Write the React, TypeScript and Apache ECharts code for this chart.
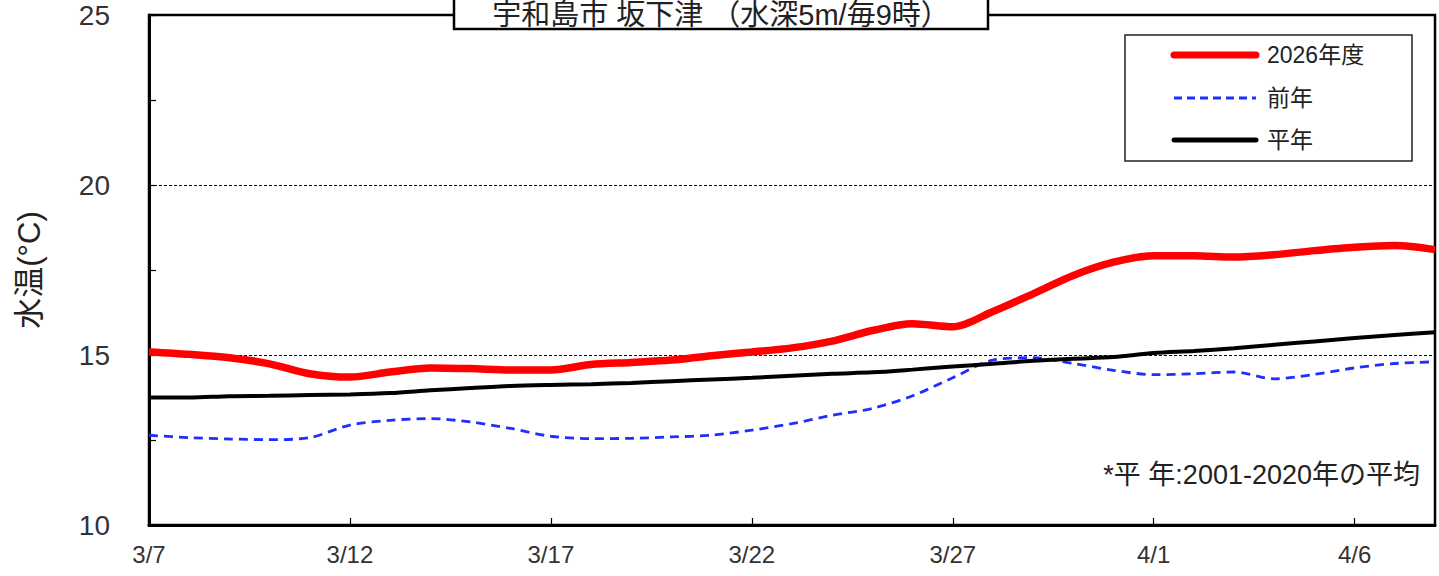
import React, { useEffect, useRef } from "react";
import * as echarts from "echarts";

const dates = [
  "3/7", "3/8", "3/9", "3/10", "3/11", "3/12", "3/13", "3/14", "3/15", "3/16",
  "3/17", "3/18", "3/19", "3/20", "3/21", "3/22", "3/23", "3/24", "3/25", "3/26",
  "3/27", "3/28", "3/29", "3/30", "3/31", "4/1", "4/2", "4/3", "4/4", "4/5",
  "4/6", "4/7", "4/8",
];

const thisYear = [
  15.09, 15.02, 14.92, 14.74, 14.45, 14.35, 14.5, 14.62, 14.6, 14.56,
  14.56, 14.72, 14.78, 14.85, 14.98, 15.09, 15.21, 15.41, 15.72, 15.92,
  15.83, 16.28, 16.8, 17.34, 17.73, 17.92, 17.92, 17.88, 17.95, 18.07,
  18.17, 18.22, 18.1,
];

const lastYear = [
  12.64, 12.57, 12.53, 12.51, 12.57, 12.94, 13.08, 13.13, 13.03, 12.84,
  12.61, 12.54, 12.55, 12.59, 12.64, 12.79, 12.98, 13.23, 13.43, 13.8,
  14.33, 14.85, 14.92, 14.75, 14.55, 14.42, 14.45, 14.5, 14.3, 14.43,
  14.62, 14.75, 14.8,
];

const normal = [
  13.75, 13.75, 13.79, 13.8, 13.82, 13.84, 13.88, 13.96, 14.03, 14.09,
  14.12, 14.14, 14.18, 14.23, 14.28, 14.33, 14.39, 14.45, 14.49, 14.57,
  14.66, 14.74, 14.83, 14.89, 14.94, 15.06, 15.12, 15.2, 15.3, 15.4,
  15.5, 15.59, 15.67,
];

const seriesNames = ["2026年度", "前年", "平年"];
const seriesColors = ["#ff0000", "#1f2fff", "#000000"];
const titleText = "宇和島市 坂下津 （水深5m/毎9時）";
const noteText = "*平 年:2001-2020年の平均";
const yName = "水温(°C)";

const FONT = "'Liberation Sans', 'Noto Sans CJK JP', sans-serif";

export default function App() {
  const ref = useRef<HTMLDivElement>(null);

  useEffect(() => {
    document.body.style.margin = "0";
    const chart = echarts.init(ref.current!, null, { renderer: "svg" });

    const legendRows = [55, 98, 140];
    const legendStyles = [
      { lineWidth: 7, lineDash: null as number[] | null },
      { lineWidth: 3, lineDash: [8, 5] },
      { lineWidth: 5, lineDash: null as number[] | null },
    ];
    const legendGraphics: any[] = [];
    seriesNames.forEach((name, i) => {
      legendGraphics.push({
        type: "line",
        shape: { x1: 1174, y1: legendRows[i], x2: 1256, y2: legendRows[i] },
        style: {
          stroke: seriesColors[i],
          lineWidth: legendStyles[i].lineWidth,
          lineDash: legendStyles[i].lineDash || undefined,
          lineCap: legendStyles[i].lineDash ? "butt" : "round",
        },
        z: 101,
      });
      legendGraphics.push({
        type: "text",
        x: 1267,
        y: legendRows[i],
        style: {
          text: name,
          fontSize: 23,
          fill: "#222",
          fontFamily: FONT,
          align: "left",
          verticalAlign: "middle",
        },
        z: 101,
      });
    });

    chart.setOption({
      animation: false,
      backgroundColor: "#ffffff",
      textStyle: { fontFamily: FONT },
      grid: {
        left: 149,
        right: 4,
        top: 15,
        bottom: 51,
        show: true,
        borderColor: "#000",
        borderWidth: 2.5,
        backgroundColor: "transparent",
      },
      xAxis: {
        type: "category",
        data: dates,
        boundaryGap: false,
        axisLine: { lineStyle: { color: "#000", width: 3 } },
        axisTick: { inside: true, interval: 4, length: 7, lineStyle: { color: "#000", width: 1.2 } },
        axisLabel: { interval: 4, margin: 17, fontSize: 24, color: "#333", fontFamily: FONT },
        splitLine: { show: false },
      },
      yAxis: {
        type: "value",
        min: 10,
        max: 25,
        interval: 5,
        name: yName,
        nameLocation: "middle",
        nameRotate: 90,
        nameGap: 104,
        nameTextStyle: { fontSize: 31, color: "#222", fontFamily: FONT },
        axisLine: { show: true, lineStyle: { color: "#000", width: 3 } },
        axisTick: { show: true, inside: true, length: 7, lineStyle: { color: "#000", width: 1.2 } },
        minorTick: { show: true, splitNumber: 2, length: 7, lineStyle: { color: "#000", width: 1.2 } },
        axisLabel: { margin: 39, fontSize: 28, color: "#333", fontFamily: FONT },
        splitLine: { show: true, lineStyle: { color: "#000", width: 1, type: [3, 2] } },
      },
      graphic: [
        {
          type: "rect",
          shape: { x: 1125, y: 35, width: 287, height: 126 },
          style: { fill: "#fff", stroke: "#222", lineWidth: 1.5 },
          z: 100,
        },
        ...legendGraphics,
        {
          type: "rect",
          shape: { x: 454, y: -10, width: 534, height: 39 },
          style: { fill: "#fff", stroke: "#000", lineWidth: 2.5 },
          z: 100,
        },
        {
          type: "text",
          x: 721,
          y: 15,
          style: {
            text: titleText,
            fontSize: 29,
            fill: "#222",
            fontFamily: FONT,
            align: "center",
            verticalAlign: "middle",
          },
          z: 101,
        },
        {
          type: "text",
          x: 1420,
          y: 475,
          style: {
            text: noteText,
            fontSize: 27,
            fill: "#222",
            fontFamily: FONT,
            align: "right",
            verticalAlign: "middle",
          },
          z: 101,
        },
      ],
      series: [
        {
          name: seriesNames[0],
          type: "line",
          data: thisYear,
          smooth: 0.3,
          showSymbol: false,
          symbol: "none",
          lineStyle: { color: seriesColors[0], width: 7.5 },
          itemStyle: { color: seriesColors[0] },
          z: 5,
        },
        {
          name: seriesNames[1],
          type: "line",
          data: lastYear,
          smooth: 0.3,
          showSymbol: false,
          symbol: "none",
          lineStyle: { color: seriesColors[1], width: 2.8, type: [9, 6] },
          itemStyle: { color: seriesColors[1] },
          z: 3,
        },
        {
          name: seriesNames[2],
          type: "line",
          data: normal,
          smooth: 0.3,
          showSymbol: false,
          symbol: "none",
          lineStyle: { color: seriesColors[2], width: 4 },
          itemStyle: { color: seriesColors[2] },
          z: 4,
        },
      ],
    });
    return () => chart.dispose();
  }, []);

  return <div ref={ref} style={{ width: 1439, height: 576 }} />;
}
